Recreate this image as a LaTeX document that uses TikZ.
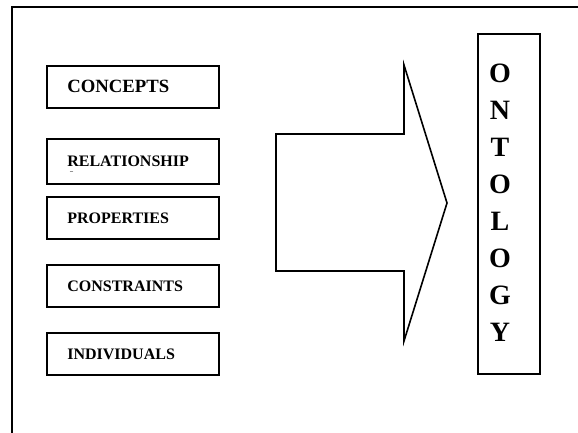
\documentclass[tikz,border=0pt]{standalone}
\usepackage{fontspec}
\setmainfont{Liberation Serif}
\begin{document}
\begin{tikzpicture}[x=1pt,y=-1pt,
  line join=miter,
  itembox/.style={draw,line width=1.7pt,minimum width=172pt,minimum height=42pt,
    inner sep=0pt,text width=151pt,align=left,anchor=north west,
    font=\bfseries\fontsize{16}{16}\selectfont},
  frameline/.style={line width=1.8pt},
  blockarrow/.style={draw,line width=1.6pt},
  ontobox/.style={draw,line width=1.7pt,minimum width=62pt,minimum height=340pt,
    anchor=north west,inner sep=0pt},
  letter/.style={font=\bfseries\fontsize{28}{28}\selectfont,inner sep=0pt}]
\useasboundingbox (0,0) rectangle (578,433);
% outer frame: only the top and left edges fall inside the page
\coordinate (ftl) at (12,7);
\coordinate (ftr) at (580,7);
\coordinate (fbl) at (12,435);
\draw[frameline] (ftr) -- (ftl) -- (fbl);
% list of ingredients
\node[itembox,font=\bfseries\fontsize{18.7}{18.7}\selectfont] (concepts) at (46,65) {\hspace*{10pt}CONCEPTS};
\node[itembox,minimum height=45pt] (relationship) at (46,138) {\hspace*{10pt}RELATIONSHIP};
\node[font=\bfseries\fontsize{6}{6}\selectfont,inner sep=0pt] (dash) at (71.5,173) {--};
\node[itembox] (properties) at (46,196) {\hspace*{10pt}PROPERTIES};
\node[itembox] (constraints) at (46,264) {\hspace*{10pt}CONSTRAINTS};
\node[itembox] (individuals) at (46,332) {\hspace*{10pt}INDIVIDUALS};
% block arrow
\draw[blockarrow] (276,134) -- (404,134) -- (404,65) -- (447,203) -- (404,341)
  -- (404,271) -- (276,271) -- cycle;
% result box
\node[ontobox] (ontology) at (477,33) {};
\foreach \ch [count=\i from 0] in {O,N,T,O,L,O,G,Y}
  \node[letter] (l\i) at (500,{73+37*\i}) {\ch};
\end{tikzpicture}
\end{document}
